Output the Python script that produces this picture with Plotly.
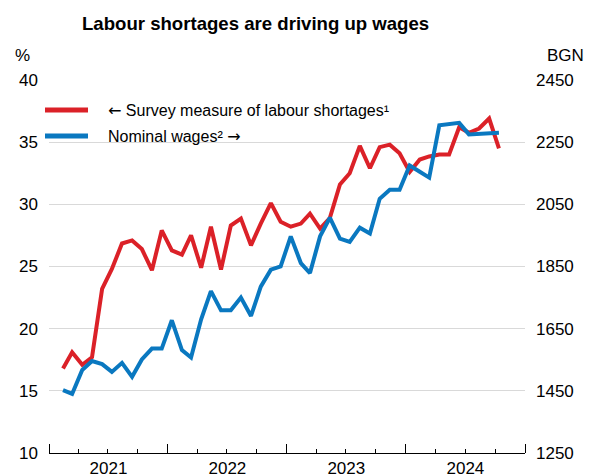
import pandas as pd
import plotly.graph_objects as go

# Monthly observations, Feb 2021 - Oct 2024
months = pd.date_range("2021-02-01", "2024-10-01", freq="MS") + pd.Timedelta(days=12)

shortages = [16.8, 18.1, 17.1, 17.7, 23.2, 24.8, 26.85, 27.1, 26.4, 24.7,
             27.9, 26.3, 25.95, 27.5, 24.9, 28.2, 24.75, 28.3, 28.85, 26.7,
             28.45, 30.1, 28.6, 28.2, 28.45, 29.25, 28.05, 28.9, 31.6, 32.5,
             34.7, 32.9, 34.6, 34.8, 34.1, 32.6, 33.6, 33.85, 34.0, 34.0,
             36.2, 35.75, 36.1, 36.9, 34.5]

wages = [1452, 1440, 1517, 1546, 1536, 1511, 1540, 1495, 1551, 1586,
         1586, 1677, 1581, 1557, 1680, 1771, 1709, 1709, 1750, 1691,
         1785, 1840, 1850, 1947, 1861, 1829, 1947, 2007, 1940, 1929,
         1975, 1956, 2068, 2097, 2097, 2175, 2155, 2136, 2304, 2307,
         2312, 2275, 2277, 2279, 2280]

left_ticks = [10, 15, 20, 25, 30, 35, 40]
right_ticks = [1250, 1450, 1650, 1850, 2050, 2250, 2450]

legend_labels = ["← Survey measure of labour shortages¹", "Nominal wages² →"]
title_text = "Labour shortages are driving up wages"

RED = "#db2128"
BLUE = "#0a78c0"
FONT = "Liberation Sans, Arial, sans-serif"

fig = go.Figure()
fig.add_trace(go.Scatter(x=months, y=shortages, mode="lines",
                         line=dict(color=RED, width=4), yaxis="y",
                         name=legend_labels[0], showlegend=False))
fig.add_trace(go.Scatter(x=months, y=wages, mode="lines",
                         line=dict(color=BLUE, width=4), yaxis="y2",
                         name=legend_labels[1], showlegend=False))

W, H = 589, 474
L, R, T, B = 49, 64, 80, 21
pw = W - L - R
ph = H - T - B

def px_x(x):
    return (x - L) / pw

def px_y(y):
    return (H - B - y) / ph

def arrowify(s):
    return s.replace("←", '<span style="font-family:DejaVu Sans">←</span>') \
            .replace("→", '<span style="font-family:DejaVu Sans">→</span>')

fig.update_layout(
    width=W, height=H,
    margin=dict(l=L, r=R, t=T, b=B, autoexpand=False),
    paper_bgcolor="white", plot_bgcolor="white",
    font=dict(family=FONT, color="black", size=17),
    xaxis=dict(
        type="date", automargin=False,
        range=["2021-01-01", "2025-01-01"],
        tick0="2021-01-01", dtick="M12",
        tickformat="%Y", ticklabelmode="period",
        ticks="inside", ticklen=9, tickcolor="black", tickwidth=1,
        minor=dict(dtick="M3", ticks="inside", ticklen=4, tickcolor="black",
                   tickwidth=1, showgrid=False),
        showline=True, linecolor="black", linewidth=1,
        showgrid=False, zeroline=False,
        tickfont=dict(size=17),
    ),
    yaxis=dict(
        range=[10, 40], tickvals=left_ticks, automargin=False,
        showgrid=True, gridcolor="#d9d9d9", gridwidth=1,
        zeroline=False, showline=False, ticks="",
        ticklabelstandoff=10, tickfont=dict(size=17),
    ),
    yaxis2=dict(
        range=[1250, 2450], tickvals=right_ticks, automargin=False,
        overlaying="y", side="right",
        showgrid=False, zeroline=False, showline=False, ticks="",
        ticklabelstandoff=10, tickfont=dict(size=17),
    ),
    showlegend=False,
)

# legend (manual)
for i, (col, lab) in enumerate(zip([RED, BLUE], legend_labels)):
    yy = [110, 136][i]
    fig.add_shape(type="line", xref="paper", yref="paper",
                  x0=px_x(45), x1=px_x(88), y0=px_y(yy), y1=px_y(yy),
                  line=dict(color=col, width=5))
    fig.add_annotation(xref="paper", yref="paper", x=px_x(106), y=px_y(yy),
                       text=arrowify(lab), showarrow=False, xanchor="left",
                       yanchor="middle", font=dict(size=16))

fig.add_annotation(xref="paper", yref="paper", x=px_x(255), y=px_y(24),
                   text="<b>" + title_text + "</b>", showarrow=False,
                   xanchor="center", yanchor="middle", font=dict(size=18.6))
fig.add_annotation(xref="paper", yref="paper", x=px_x(22), y=px_y(56),
                   text="%", showarrow=False, xanchor="center", yanchor="middle",
                   font=dict(size=17))
fig.add_annotation(xref="paper", yref="paper", x=px_x(565), y=px_y(56),
                   text="BGN", showarrow=False, xanchor="center", yanchor="middle",
                   font=dict(size=17))

fig.write_html("out.html", config={"displayModeBar": False},
               post_script="document.body.style.margin='0';document.body.style.overflow='hidden';")
